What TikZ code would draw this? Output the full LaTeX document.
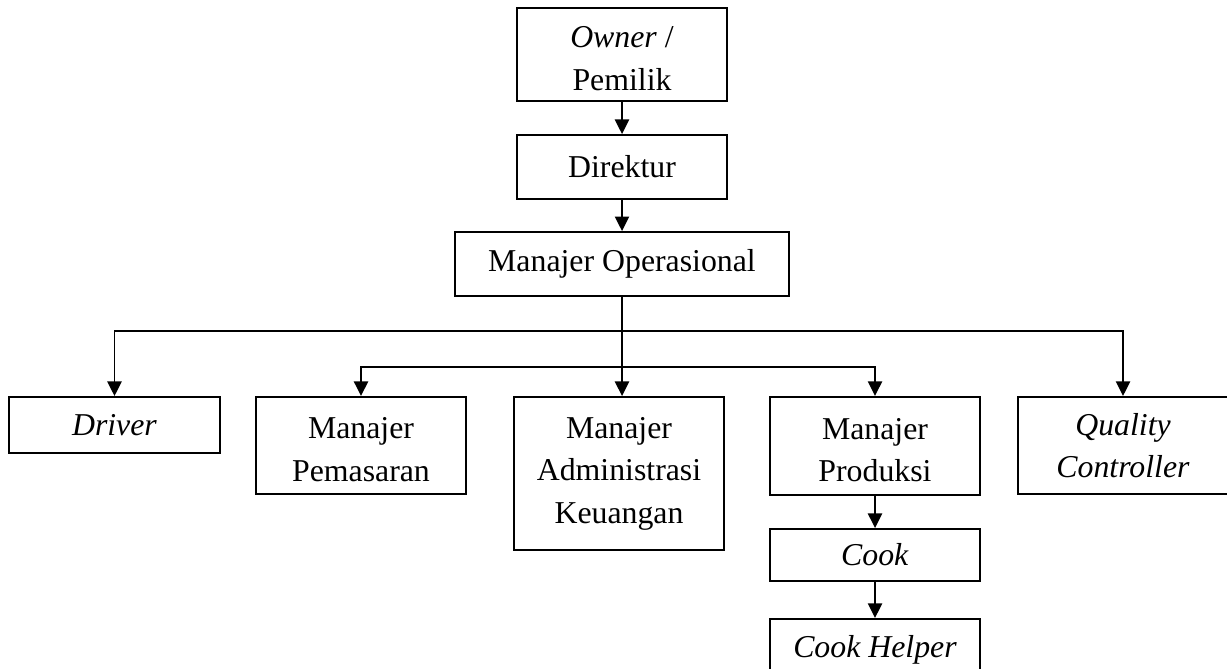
\documentclass[tikz,border=0pt]{standalone}
\usepackage{fontspec}
\setmainfont{Liberation Serif}
\usetikzlibrary{arrows.meta}
\begin{document}
\begin{tikzpicture}[x=0.3773pt, y=-0.3773pt, >={Triangle[width=5.3pt,length=5.5pt]},
  box/.style={draw, line width=0.75pt, align=center, inner sep=0pt, minimum width=79.2pt,
    font=\fontsize{12pt}{16pt}\selectfont},
  link/.style={->, line width=0.75pt}]
  \useasboundingbox (0,0) rectangle (1227,668);
  \node[box, minimum height=35.1pt] (owner) at (622,54.5) {\rule{0pt}{11pt}\textit{Owner} /\\Pemilik};
  \node[box, minimum height=24.1pt] (direktur) at (622,167) {Direktur};
  \node[box, minimum height=24.1pt, minimum width=126pt] (manop) at (622,264) {Manajer Operasional};
  \node[box, minimum height=21.1pt, minimum width=79.6pt] (driver) at (114.5,425) {\textit{Driver}};
  \node[box, minimum height=36.6pt] (pemasaran) at (361,445.5) {\rule{0pt}{11pt}Manajer\\Pemasaran};
  \node[box, minimum height=57.7pt] (admkeu) at (619,473.5) {Manajer\\Administrasi\\Keuangan};
  \node[box, minimum height=37pt] (produksi) at (875,446) {\rule{0pt}{11pt}Manajer\\Produksi};
  \node[box, minimum height=36.6pt] (qc) at (1123,445.5) {\textit{Quality}\\\textit{Controller}};
  \node[box, minimum height=19.6pt] (cook) at (875,555) {\textit{Cook}};
  \node[box, minimum height=23.4pt] (helper) at (875,650) {\textit{Cook Helper}};
  \coordinate (split1) at (manop.south |- 0,331);
  \coordinate (split2) at (manop.south |- 0,367);
  \draw[link] (owner) -- (direktur);
  \draw[link] (direktur) -- (manop);
  \draw[link] (manop.south) -- (manop.south |- admkeu.north);
  \draw[link] (split1) -| (driver.north);
  \draw[link] (split1) -| (qc.north);
  \draw[link] (split2) -| (pemasaran.north);
  \draw[link] (split2) -| (produksi.north);
  \draw[link] (produksi) -- (cook);
  \draw[link] (cook) -- (helper);
\end{tikzpicture}
\end{document}
